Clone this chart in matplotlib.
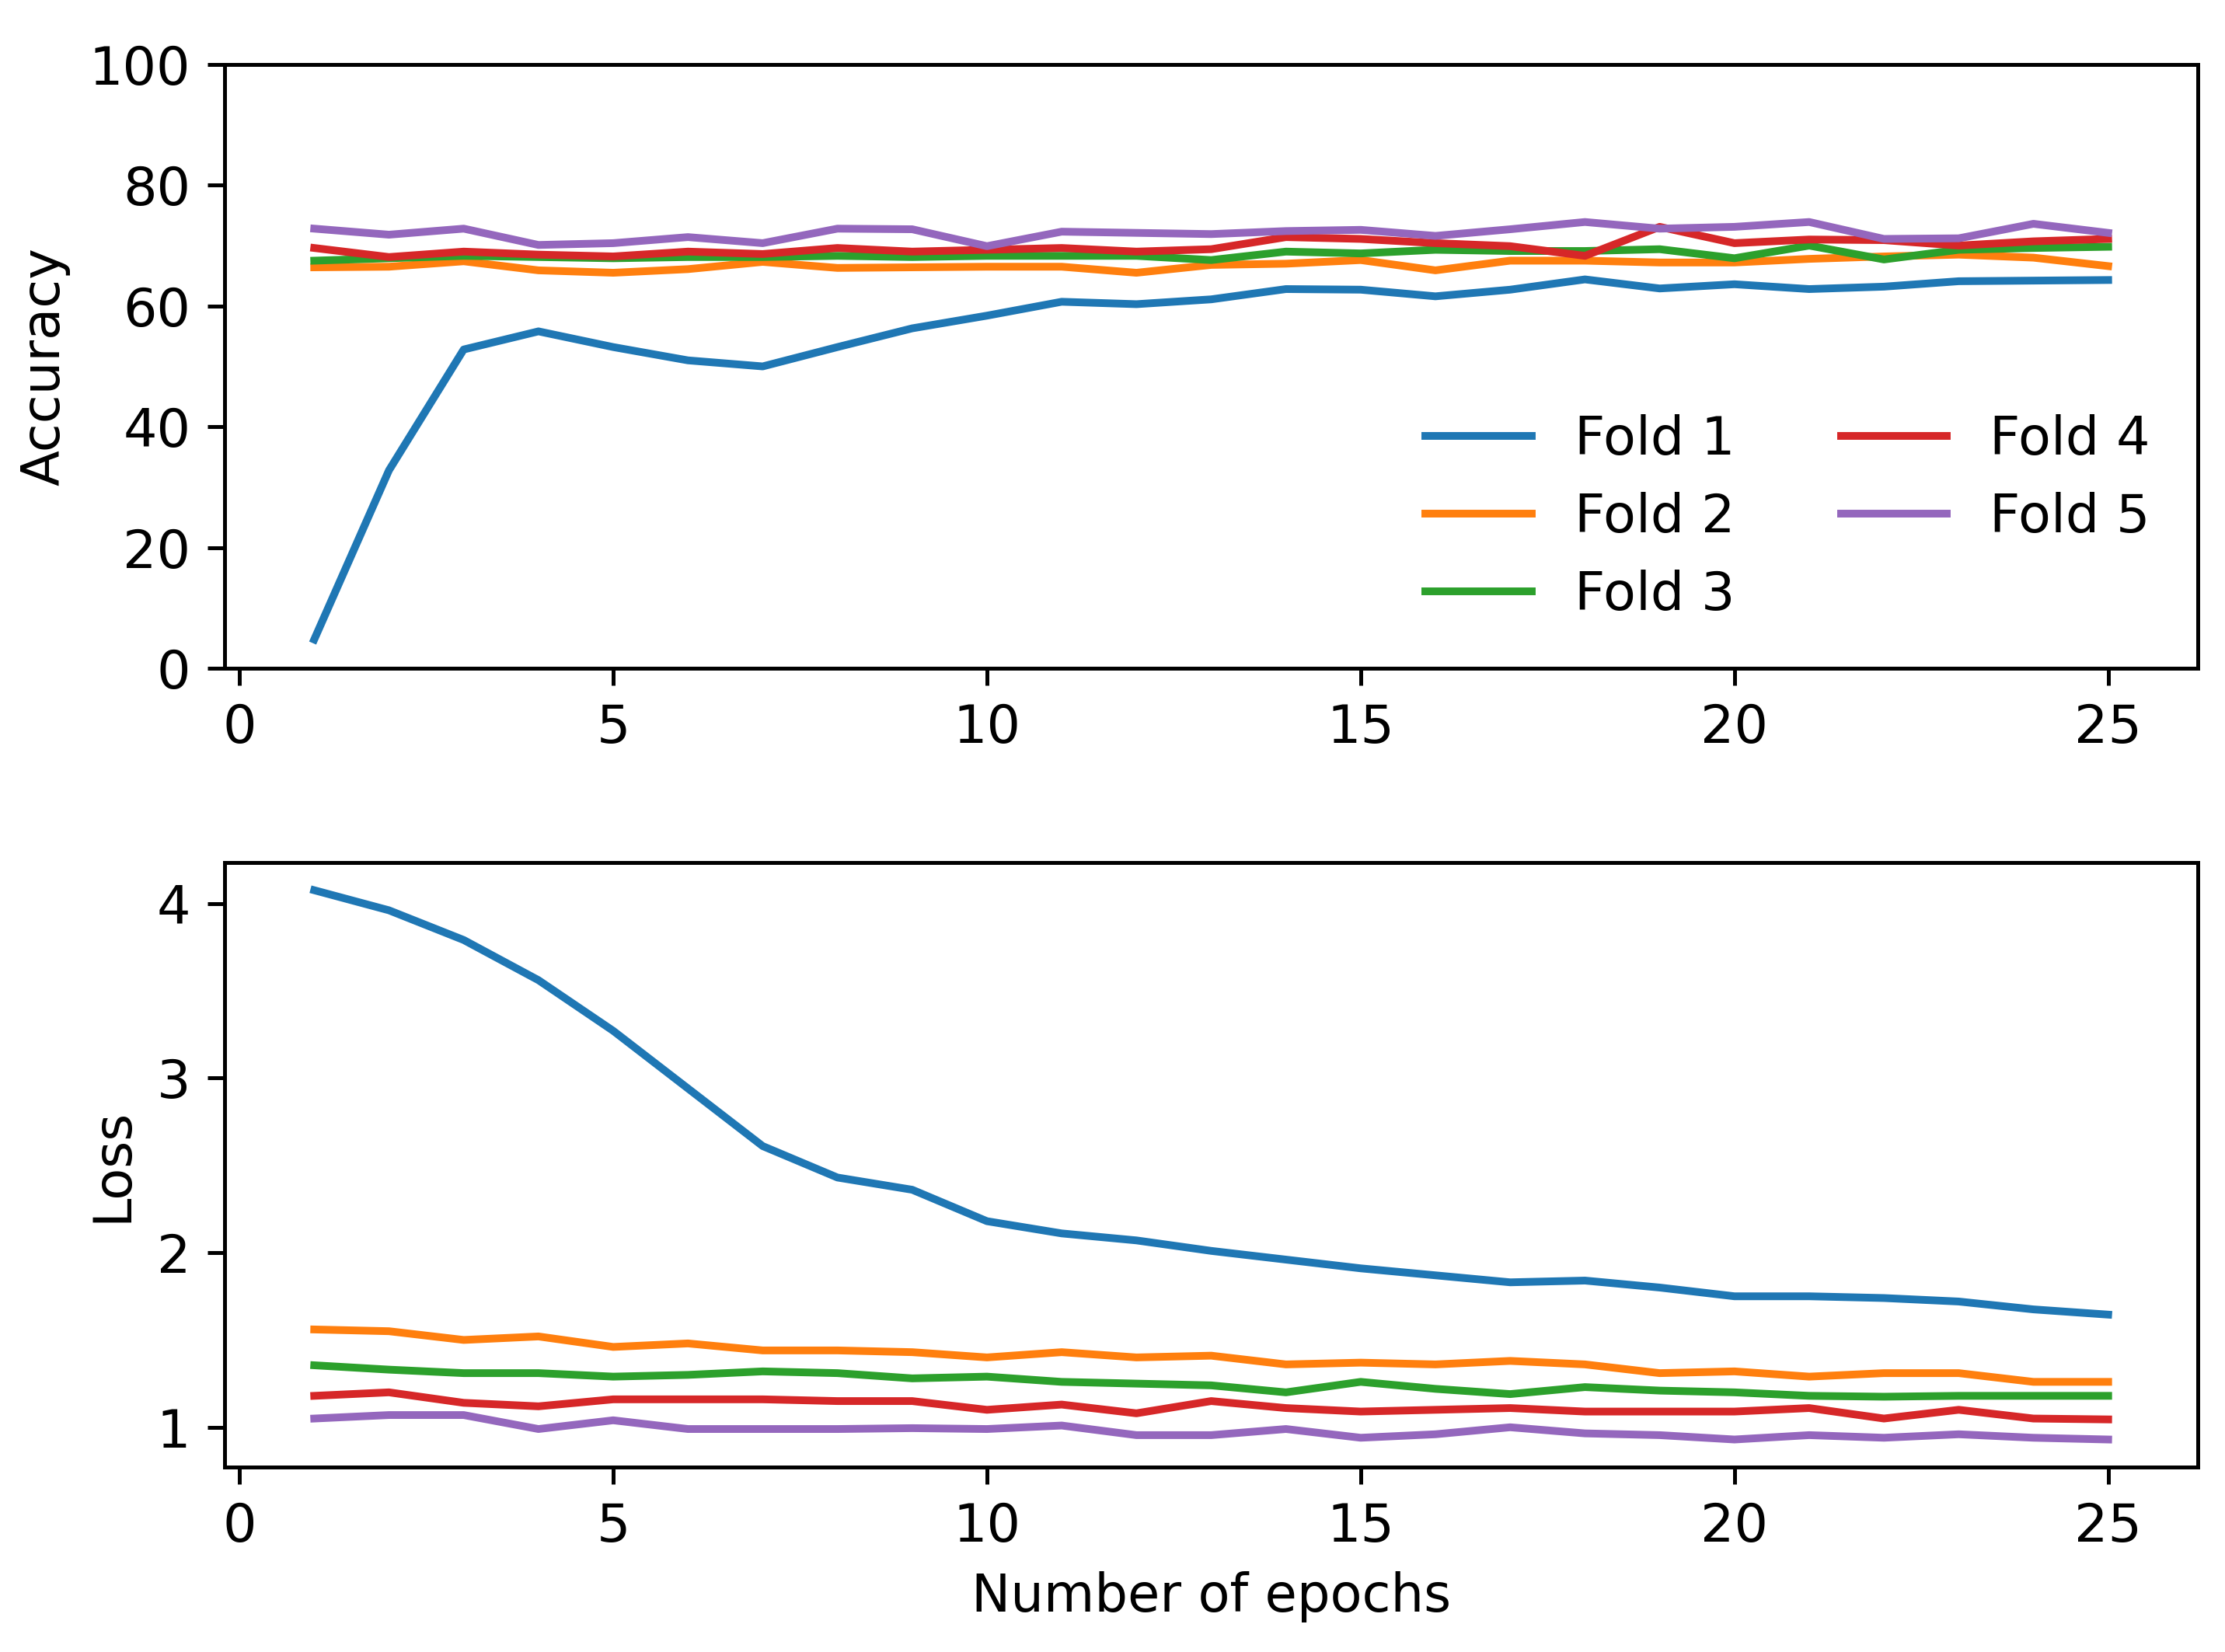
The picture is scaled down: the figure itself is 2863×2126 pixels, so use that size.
import matplotlib
matplotlib.use("Agg")
import matplotlib.pyplot as plt

epochs = list(range(1, 26))
fold_labels = ["Fold 1", "Fold 2", "Fold 3", "Fold 4", "Fold 5"]

fold1_acc = [4.8, 32.8, 52.8, 55.8, 53.2, 51.0, 50.0, 53.2, 56.3, 58.4, 60.7, 60.3, 61.1, 62.8, 62.7, 61.6, 62.7, 64.4, 62.9, 63.6, 62.8, 63.2, 64.1, 64.2, 64.3]
fold2_acc = [66.4, 66.5, 67.4, 65.9, 65.5, 66.1, 67.3, 66.3, 66.4, 66.5, 66.5, 65.5, 66.8, 67.0, 67.6, 65.9, 67.5, 67.5, 67.2, 67.2, 67.8, 68.2, 68.5, 68.0, 66.6]
fold3_acc = [67.5, 67.9, 68.3, 68.1, 67.9, 68.1, 68.1, 68.3, 68.1, 68.3, 68.3, 68.3, 67.6, 69.0, 68.7, 69.3, 69.1, 69.1, 69.4, 67.9, 70.0, 67.7, 69.3, 69.6, 69.8]
fold4_acc = [69.6, 68.1, 69.0, 68.5, 68.2, 69.0, 68.6, 69.6, 69.0, 69.3, 69.6, 69.0, 69.4, 71.4, 71.1, 70.4, 69.9, 68.3, 73.1, 70.4, 71.0, 70.9, 70.0, 70.7, 71.1]
fold5_acc = [72.8, 71.8, 72.8, 70.1, 70.4, 71.4, 70.4, 72.8, 72.7, 69.9, 72.3, 72.1, 71.9, 72.4, 72.6, 71.6, 72.7, 73.9, 72.8, 73.1, 73.9, 71.1, 71.2, 73.6, 72.1]

fold1_loss = [4.075, 3.96, 3.79, 3.56, 3.27, 2.94, 2.61, 2.43, 2.36, 2.18, 2.11, 2.07, 2.01, 1.96, 1.91, 1.87, 1.83, 1.84, 1.80, 1.75, 1.75, 1.74, 1.72, 1.675, 1.645]
fold2_loss = [1.56, 1.55, 1.50, 1.52, 1.46, 1.48, 1.44, 1.44, 1.43, 1.40, 1.43, 1.40, 1.41, 1.36, 1.37, 1.36, 1.38, 1.36, 1.31, 1.32, 1.29, 1.31, 1.31, 1.26, 1.26]
fold3_loss = [1.355, 1.33, 1.31, 1.31, 1.29, 1.30, 1.32, 1.31, 1.28, 1.29, 1.26, 1.25, 1.24, 1.20, 1.26, 1.22, 1.19, 1.23, 1.21, 1.20, 1.18, 1.175, 1.18, 1.18, 1.18]
fold4_loss = [1.18, 1.20, 1.14, 1.12, 1.16, 1.16, 1.16, 1.15, 1.15, 1.10, 1.13, 1.08, 1.15, 1.11, 1.09, 1.10, 1.11, 1.09, 1.09, 1.09, 1.11, 1.05, 1.10, 1.05, 1.045]
fold5_loss = [1.05, 1.07, 1.07, 0.99, 1.04, 0.99, 0.99, 0.99, 0.995, 0.99, 1.01, 0.955, 0.955, 0.99, 0.94, 0.96, 1.00, 0.965, 0.955, 0.93, 0.955, 0.94, 0.96, 0.94, 0.93]

acc_series = [fold1_acc, fold2_acc, fold3_acc, fold4_acc, fold5_acc]
loss_series = [fold1_loss, fold2_loss, fold3_loss, fold4_loss, fold5_loss]
colors = ["#1f77b4", "#ff7f0e", "#2ca02c", "#d62728", "#9467bd"]

plt.rcParams["xtick.labelsize"] = 11
plt.rcParams["ytick.labelsize"] = 11
plt.rcParams["axes.labelsize"] = 10.8
plt.rcParams["legend.fontsize"] = 11
plt.rcParams["lines.linewidth"] = 1.6

fig, (ax1, ax2) = plt.subplots(2, 1, figsize=(6.4, 4.7528), dpi=447.35)
fig.subplots_adjust(left=0.1009, right=0.9878, top=0.961, bottom=0.112, hspace=0.3215)

for lab, ys, c in zip(fold_labels, acc_series, colors):
    ax1.plot(epochs, ys, color=c, label=lab)
ax1.set_ylim(0, 100)
ax1.set_ylabel("Accuracy")
ax1.legend(loc="lower right", ncol=2, frameon=False)

for lab, ys, c in zip(fold_labels, loss_series, colors):
    ax2.plot(epochs, ys, color=c, label=lab)
ax2.set_ylabel("Loss")
ax2.set_xlabel("Number of epochs")

for ax in (ax1, ax2):
    ax.set_xticks([0, 5, 10, 15, 20, 25])

fig.savefig("out.png", dpi=447.35)
